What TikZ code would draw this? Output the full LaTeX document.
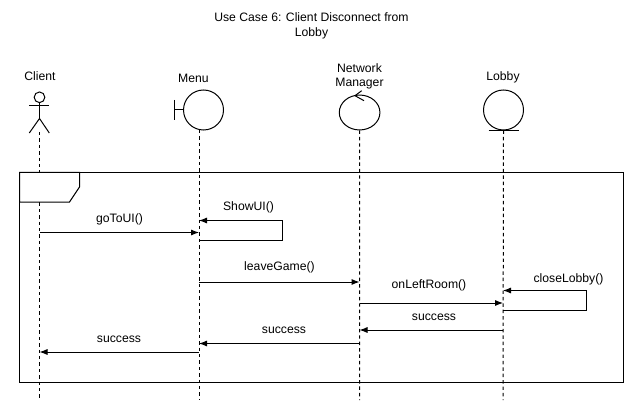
\documentclass[tikz,border=0pt]{standalone}
\usepackage{fontspec}
\setmainfont{Liberation Sans}
\usetikzlibrary{arrows.meta}
\usetikzlibrary{shapes.geometric}

\tikzset{
  lifeline/.style={dashed, dash pattern=on 2.6pt off 2.2pt},
  msg/.style={-{Latex[length=6pt, width=4.6pt]}},
  obj/.style={draw, circle, inner sep=0pt, minimum size=30pt},
  lbl/.style={font=\fontsize{9.15}{10.5}\selectfont, align=center, inner sep=0pt},
}

\begin{document}
\begin{tikzpicture}[x=0.75pt, y=-0.75pt, line width=0.75pt]

\useasboundingbox[fill=white] (0,0) rectangle (634,413);

\node[lbl] (title) at (311.5,26) {Use Case 6: Client Disconnect from\\[0.6pt]Lobby};

% participants
\node[lbl] (clientlbl)  at (40,76)    {Client};
\node[lbl] (menulbl)    at (193.5,78) {Menu};
\node[lbl] (networklbl) at (359.5,76) {Network\\Manager};
\node[lbl] (lobbylbl)   at (503,77)   {Lobby};

\node[draw, circle, inner sep=0pt, minimum size=8pt] (client) at (39.5,97.3) {};
\node[obj] (menu)    at (203.5,110)   {};
\node[draw, ellipse, inner sep=0pt, minimum width=30.5pt, minimum height=26.2pt] (network) at (359.6,112.5) {};
\node[obj] (lobby)   at (503.5,110)   {};

% actor
\coordinate (clienthip)  at (39.5,118.5);
\coordinate (clientfoot) at (39.5,132);
\draw (client.south) -- (clienthip);
\draw (29.3,105.5) -- (49.3,105.5);
\draw (29.3,133) -- (clienthip) -- (49.3,133);

% boundary, control and entity marks
\draw (menu.west) -- (174,110);
\draw (174,100) -- (174,120);
\draw (361.7,90.7) -- (355,95.7) -- (364,100.7);
\draw (488.7,130.5) -- (519,130.5);

% lifelines
\coordinate (menustart)  at (199,130);
\coordinate (clientend)  at (39.5,400);
\coordinate (menuend)    at (199,400);
\coordinate (networkend) at (359.5,400);
\coordinate (lobbyend)   at (503,400);
\draw[lifeline] (clientfoot) -- (clientend);
\draw[lifeline] (menustart) -- (menuend);
\draw[lifeline] (network.south) -- (networkend);
\draw[lifeline] (lobby.south) -- (lobbyend);

% frame
\draw (19.5,172.5) rectangle (623.5,382);
\draw[fill=white] (19.5,172.5) -- (79.5,172.5) -- (79.5,187) -- (69.5,202) -- (19.5,202) -- cycle;

% messages
\coordinate (a1) at (39.5,232.5);
\coordinate (a2) at (199,232.5);
\draw[msg] (a1) -- (a2);
\node[lbl] (gotoui) at (119.5,219) {goToUI()};

\coordinate (b1) at (199,240.5);
\coordinate (b2) at (282,240.5);
\coordinate (b3) at (282,220.5);
\coordinate (b4) at (199,220.5);
\draw[msg] (b1) -- (b2) -- (b3) -- (b4);
\node[lbl] (showui) at (248.5,207) {ShowUI()};

\coordinate (c1) at (199,282);
\coordinate (c2) at (359.5,282);
\draw[msg] (c1) -- (c2);
\node[lbl] (leavegame) at (279.5,267) {leaveGame()};

\coordinate (d1) at (359.5,303);
\coordinate (d2) at (503,303);
\draw[msg] (d1) -- (d2);
\node[lbl] (onleftroom) at (429,285) {onLeftRoom()};

\coordinate (e1) at (503,310.5);
\coordinate (e2) at (586.5,310.5);
\coordinate (e3) at (586.5,290.5);
\coordinate (e4) at (503,290.5);
\draw[msg] (e1) -- (e2) -- (e3) -- (e4);
\node[lbl] (closelobby) at (568.5,279) {closeLobby()};

\coordinate (f1) at (503,330);
\coordinate (f2) at (359.5,330);
\draw[msg] (f1) -- (f2);
\node[lbl] (successa) at (434,317) {success};

\coordinate (g1) at (359.5,343.5);
\coordinate (g2) at (199,343.5);
\draw[msg] (g1) -- (g2);
\node[lbl] (successb) at (284,330) {success};

\coordinate (h1) at (199,352);
\coordinate (h2) at (39.5,352);
\draw[msg] (h1) -- (h2);
\node[lbl] (successc) at (119,339) {success};

\end{tikzpicture}
\end{document}
